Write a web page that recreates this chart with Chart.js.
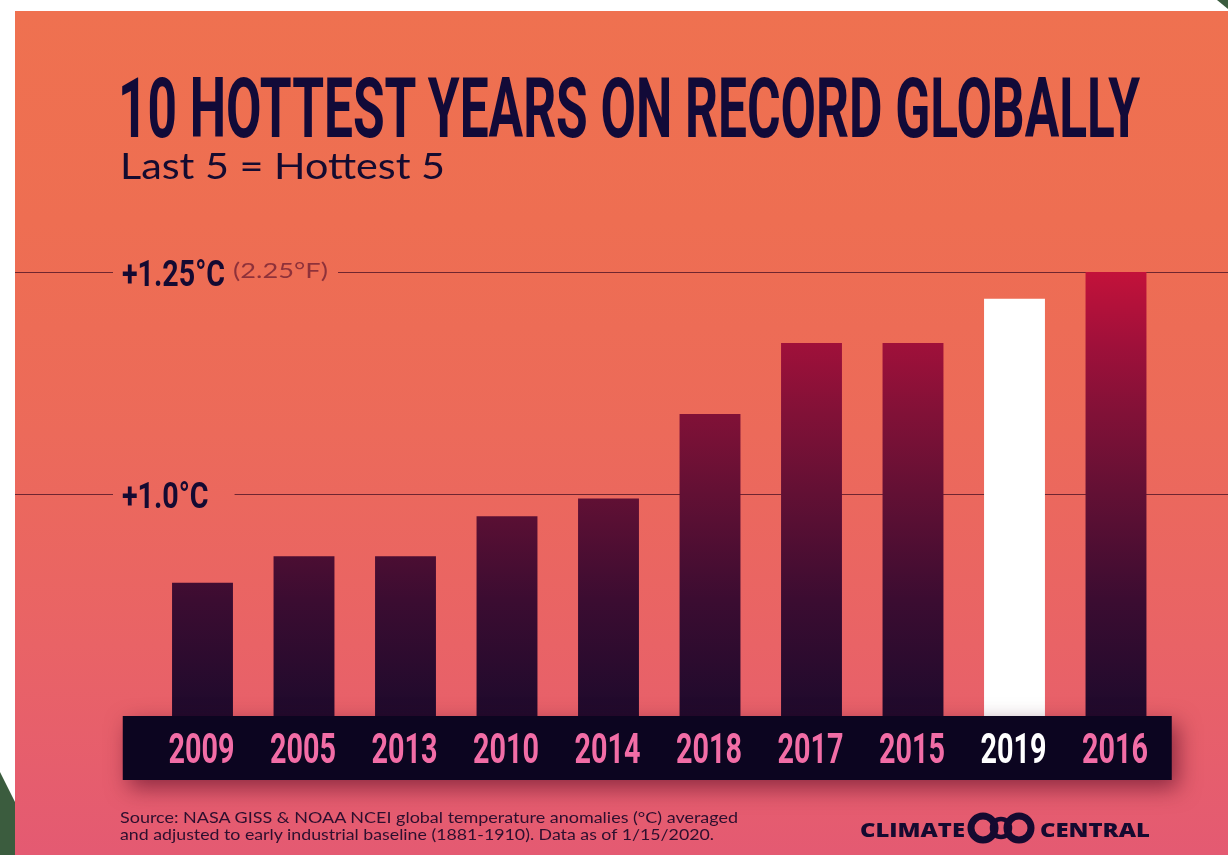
<!DOCTYPE html>
<html><head><meta charset="utf-8">
<script src="https://cdn.jsdelivr.net/npm/chart.js@4"></script>
<style>
html,body{margin:0;padding:0;background:#fff;}
#wrap{position:relative;width:1228px;height:855px;overflow:hidden;background:#fff;}
#panel{position:absolute;left:15px;top:11px;width:1213px;height:844px;
 background:linear-gradient(180deg,#EF7150 0%,#EE6E52 25%,#EC6A5A 50%,#E96366 75%,#E45A72 100%);}
#deco{position:absolute;left:0;top:0;}
#c{position:absolute;left:0;top:0;}
.t{position:absolute;white-space:nowrap;transform-origin:0 0;line-height:1;margin:0;}
#title{left:118px;top:59px;font:700 84px Roboto,sans-serif;color:#120A38;}
#subtitle{left:120px;top:142px;font:400 37px Lato,sans-serif;color:#140B30;}
.src{left:120px;font:400 16px Lato,sans-serif;color:#2D0F2E;}
#src1{top:807px;}
#src2{top:824px;}
.logo{top:817px;font:800 19px "Open Sans",sans-serif;color:#150A30;}
#logo1{left:860px;}
#logo2{left:1040px;}
#rings{position:absolute;left:965px;top:810px;}
</style></head>
<body>
<div id="wrap">
 <div id="panel"></div>
 <svg id="deco" width="1228" height="855">
  <polygon points="0,772 15,802 15,855 0,855" fill="#3B5C3E"/>
  <polygon points="1217,0 1228,0 1228,9" fill="#3B5C3E"/>
 </svg>
 <canvas id="c" width="1228" height="855"></canvas>
 <div class="t fit" id="title" data-w="1022">10 HOTTEST YEARS ON RECORD GLOBALLY</div>
 <div class="t fit" id="subtitle" data-w="325">Last 5 = Hottest 5</div>
 <div class="t fit src" id="src1" data-w="618">Source: NASA GISS &amp; NOAA NCEI global temperature anomalies (°C) averaged</div>
 <div class="t fit src" id="src2" data-w="594">and adjusted to early industrial baseline (1881-1910). Data as of 1/15/2020.</div>
 <div class="t fit logo" id="logo1" data-w="105">CLIMATE</div>
 <svg id="rings" width="72" height="36">
  <circle cx="18" cy="18" r="12" fill="none" stroke="#150A30" stroke-width="7"/>
  <circle cx="54" cy="18" r="12" fill="none" stroke="#150A30" stroke-width="7"/>
  <circle cx="36" cy="18" r="9" fill="none" stroke="#150A30" stroke-width="4.5"/>
 </svg>
 <div class="t fit logo" id="logo2" data-w="110">CENTRAL</div>
</div>
<script>
// ---- data ----
const years = ['2009','2005','2013','2010','2014','2018','2017','2015','2019','2016'];
const anomalies = [0.90, 0.93, 0.93, 0.975, 0.995, 1.09, 1.17, 1.17, 1.22, 1.25];
const highlightYear = '2019';
const tickValues = [1.0, 1.25];
const tickLabels = ['+1.0°C', '+1.25°C'];
const tickExtras = ['', '(2.25°F)'];
const axisMin = 0.75;
const axisMax = 1.30;

// fit html text widths
document.querySelectorAll('.fit').forEach(el => {
  const w = el.getBoundingClientRect().width;
  const target = parseFloat(el.dataset.w);
  el.style.transform = 'scaleX(' + (target / w) + ')';
});

const condFont = (s) => '700 ' + s + 'px Roboto, sans-serif';
const extraFont = '400 21px Lato, sans-serif';

const decorPlugin = {
  id: 'decor',
  beforeDatasetsDraw(chart) {
    const ctx = chart.ctx, y = chart.scales.y;
    ctx.save();
    ctx.font = condFont(36);
    const sx = 103 / ctx.measureText('+1.25°C').width;
    ctx.font = extraFont;
    const ex = 95 / ctx.measureText('(2.25°F)').width;
    tickValues.forEach((v, i) => {
      const py = Math.round(y.getPixelForValue(v)) + 0.5;
      const lx = 122;
      ctx.font = condFont(36);
      const mainW = ctx.measureText(tickLabels[i]).width * sx;
      let end = lx + mainW;
      ctx.font = extraFont;
      const extraW = tickExtras[i] ? ctx.measureText(tickExtras[i]).width * ex : 0;
      if (tickExtras[i]) end = lx + mainW + 8 + extraW;
      ctx.strokeStyle = 'rgba(70,15,35,0.75)';
      ctx.lineWidth = 1;
      ctx.beginPath();
      ctx.moveTo(15, py); ctx.lineTo(lx - 9, py);
      ctx.moveTo(end + (tickExtras[i] ? 10 : 26), py); ctx.lineTo(1228, py);
      ctx.stroke();
      // main label
      ctx.font = condFont(36);
      ctx.fillStyle = '#140A32';
      ctx.textBaseline = 'alphabetic';
      ctx.textAlign = 'left';
      ctx.save();
      ctx.translate(lx, py + 13);
      ctx.scale(sx, 1);
      ctx.fillText(tickLabels[i], 0, 0);
      ctx.restore();
      if (tickExtras[i]) {
        ctx.font = extraFont;
        ctx.fillStyle = 'rgba(110,30,50,0.75)';
        ctx.save();
        ctx.translate(lx + mainW + 8, py + 5);
        ctx.scale(ex, 1);
        ctx.fillText(tickExtras[i], 0, 0);
        ctx.restore();
      }
    });
    ctx.restore();
  },
  afterDatasetsDraw(chart) {
    const ctx = chart.ctx, x = chart.scales.x, ca = chart.chartArea;
    ctx.save();
    const bx = ca.left - 29, bw = ca.right + 5 - bx, by = ca.bottom, bh = 64;
    ctx.shadowColor = 'rgba(70,0,30,0.55)';
    ctx.shadowBlur = 22;
    ctx.shadowOffsetX = 6;
    ctx.shadowOffsetY = 8;
    ctx.fillStyle = '#0C0520';
    ctx.fillRect(bx, by, bw, bh);
    ctx.restore();
    ctx.save();
    ctx.font = condFont(43);
    const sx = 66 / ctx.measureText('2009').width;
    ctx.textAlign = 'center';
    ctx.textBaseline = 'alphabetic';
    years.forEach((yr, i) => {
      const cx = x.getPixelForValue(i);
      ctx.fillStyle = yr === highlightYear ? '#FFFFFF' : '#F26DA6';
      ctx.save();
      ctx.translate(cx - 1, by + 47);
      ctx.scale(sx, 1);
      ctx.fillText(yr, 0, 0);
      ctx.restore();
    });
    ctx.restore();
  }
};

function barColor(context) {
  const chart = context.chart;
  const yr = years[context.dataIndex];
  if (yr === highlightYear) return '#FFFFFF';
  const y = chart.scales.y;
  if (!y || !chart.chartArea) return '#5A1030';
  const y0 = y.getPixelForValue(axisMin), y1 = y.getPixelForValue(1.25);
  const g = chart.ctx.createLinearGradient(0, y0, 0, y1);
  g.addColorStop(0, '#1E0A2C');
  g.addColorStop(0.26, '#3B0C31');
  g.addColorStop(0.5, '#621034');
  g.addColorStop(0.68, '#811137');
  g.addColorStop(0.84, '#A0103A');
  g.addColorStop(1, '#C3123A');
  return g;
}

new Chart(document.getElementById('c'), {
  type: 'bar',
  data: {
    labels: years,
    datasets: [{
      data: anomalies,
      backgroundColor: barColor,
      borderWidth: 0,
      barPercentage: 0.6,
      categoryPercentage: 1.0
    }]
  },
  options: {
    responsive: false,
    animation: false,
    events: [],
    layout: { padding: { left: 151.75, right: 61.25, top: 227.6, bottom: 139 } },
    scales: {
      x: { display: false },
      y: { display: false, min: axisMin, max: axisMax }
    },
    plugins: { legend: { display: false }, tooltip: { enabled: false }, title: { display: false } }
  },
  plugins: [decorPlugin]
});
</script>
</body></html>
